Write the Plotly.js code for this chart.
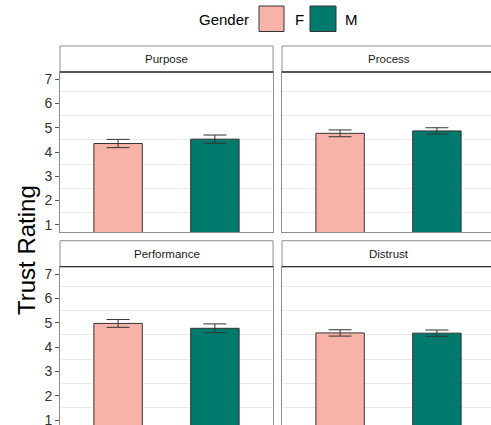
<!DOCTYPE html>
<html>
<head>
<meta charset="utf-8">
<script src="https://cdn.plot.ly/plotly-3.0.1.min.js"></script>
<style>
html,body{margin:0;padding:0;overflow:hidden;background:#fff;}
#chart{width:510px;height:440px;}
</style>
</head>
<body>
<div id="chart"></div>
<script>
// ---- data ----
const facets = ['Purpose', 'Process', 'Performance', 'Distrust'];
const genders = ['F', 'M'];
const meanF = [4.35, 4.77, 4.97, 4.58];
const meanM = [4.53, 4.87, 4.77, 4.57];
const errF = [0.17, 0.14, 0.16, 0.13];
const errM = [0.17, 0.13, 0.18, 0.13];
const yTicks = [1, 2, 3, 4, 5, 6, 7];

// ---- styles ----
const colF = '#F8B3A9';
const colM = '#007A6C';
const W = 510, H = 440;
const font = 'Liberation Sans, Arial, sans-serif';
const border = '#8f8f8f';
const dark = '#333333';

// panel pixel boxes [x0,x1,y0(top),y1(bottom)]
const colsPx = [[60, 273], [282, 495]];
const rowsPx = [[72, 232], [266.7, 427.4]];
const stripH = 26;

const traces = [];
const layout = {
  width: W, height: H,
  margin: {l: 0, r: 0, t: 0, b: 0},
  paper_bgcolor: '#fff', plot_bgcolor: '#fff',
  showlegend: false,
  font: {family: font, color: dark},
  shapes: [], annotations: []
};

facets.forEach((name, i) => {
  const r = Math.floor(i / 2), c = i % 2;
  const sfx = i === 0 ? '' : String(i + 1);
  traces.push({
    type: 'bar',
    x: genders,
    y: [meanF[i], meanM[i]],
    xaxis: 'x' + sfx, yaxis: 'y' + sfx,
    width: 0.5,
    marker: {color: [colF, colM], line: {color: dark, width: 1}},
    error_y: {type: 'data', array: [errF[i], errM[i]], visible: true,
              color: dark, thickness: 1, width: 11.5},
    hoverinfo: 'x+y'
  });
  const [x0, x1] = colsPx[c];
  const [yt, yb] = rowsPx[r];
  layout['xaxis' + sfx] = {
    domain: [x0 / W, x1 / W],
    anchor: 'y' + sfx,
    type: 'category',
    range: [-0.6, 1.6],
    showticklabels: false, ticks: '',
    showgrid: false, zeroline: false,
    showline: true, mirror: true, linecolor: border, linewidth: 1
  };
  layout['yaxis' + sfx] = {
    domain: [1 - yb / H, 1 - yt / H],
    anchor: 'x' + sfx,
    range: [0.7, 7.3],
    tickvals: yTicks,
    showticklabels: c === 0,
    ticks: c === 0 ? 'outside' : '',
    ticklen: 4, tickcolor: '#555', tickwidth: 1,
    tickfont: {size: 14, color: dark, family: font},
    showgrid: false, zeroline: false,
    showline: true, mirror: true, linecolor: border, linewidth: 1,
    minor: {tick0: 0.5, dtick: 1, showgrid: true, gridcolor: '#EBEBEB', gridwidth: 1, ticklen: 0}
  };
  const ph = yb - yt;
  const xr = 'x' + sfx + ' domain', yr = 'y' + sfx + ' domain';
  layout.shapes.push({type: 'rect', xref: xr, yref: yr, x0: 0, x1: 1, y0: 1, y1: 1 + stripH / ph,
                      fillcolor: '#fff', line: {color: border, width: 1}, layer: 'above'});
  layout.shapes.push({type: 'line', xref: xr, yref: yr, x0: 0, x1: 1, y0: 1, y1: 1,
                      line: {color: dark, width: 1.3}, layer: 'above'});
  layout.annotations.push({xref: xr, yref: yr, x: 0.5, y: 1 + stripH / 2 / ph,
                           text: name, showarrow: false, xanchor: 'center', yanchor: 'middle',
                           font: {size: 11.5, color: '#1a1a1a', family: font}});
});

// y axis title
layout.annotations.push({xref: 'paper', yref: 'paper', x: 26 / W, y: 1 - 250 / H,
  text: 'Trust Rating', textangle: -90, showarrow: false, xanchor: 'center', yanchor: 'middle',
  font: {size: 24, color: '#000', family: font}});

// legend (drawn)
layout.annotations.push({xref: 'paper', yref: 'paper', x: 251 / W, y: 1 - 19 / H,
  text: 'Gender', showarrow: false, xanchor: 'right', yanchor: 'middle',
  font: {size: 15, color: '#000', family: font}});
const legBoxes = [[259, 284, colF, genders[0], 293], [310, 336, colM, genders[1], 343]];
legBoxes.forEach(([a, b, col, lab, tx]) => {
  layout.shapes.push({type: 'rect', xref: 'paper', yref: 'paper', x0: a / W, x1: b / W,
    y0: 1 - 31.5 / H, y1: 1 - 6 / H, fillcolor: col, line: {color: dark, width: 1}});
  layout.annotations.push({xref: 'paper', yref: 'paper', x: tx / W, y: 1 - 19 / H,
    text: lab, showarrow: false, xanchor: 'left', yanchor: 'middle',
    font: {size: 15, color: '#000', family: font}});
});

Plotly.newPlot('chart', traces, layout, {displayModeBar: false, staticPlot: true});
</script>
</body>
</html>
